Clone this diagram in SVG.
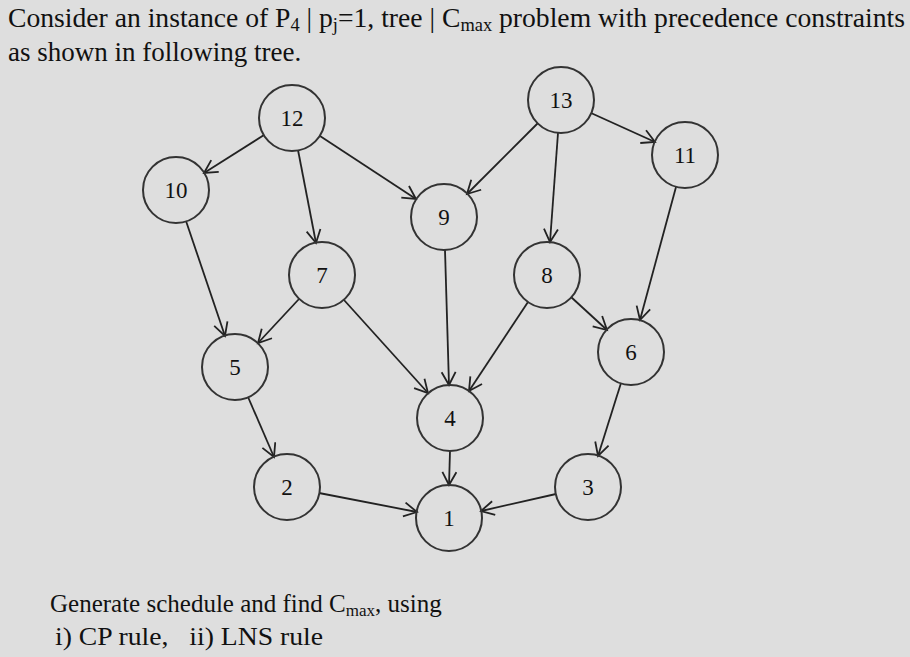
<svg xmlns="http://www.w3.org/2000/svg" width="910" height="657" viewBox="0 0 910 657">
<style>
text{font-family:"Liberation Serif","Times New Roman",serif;fill:#111}
.t{font-size:27px}
.b{font-size:25px}
.n circle{fill:none;stroke:#333;stroke-width:2}
.n text{font-size:23px;text-anchor:middle;dominant-baseline:central}
#edges line{stroke:#222;stroke-width:1.8;marker-end:url(#a)}
</style>
<defs><marker id="a" markerUnits="userSpaceOnUse" markerWidth="20" markerHeight="20" refX="14" refY="8" orient="auto"><path d="M1,1 L14,8 L1,15" fill="none" stroke="#222" stroke-width="1.8"/></marker></defs>
<rect width="910" height="657" fill="#dedede"/>
<text class="t" x="8" y="27" textLength="897" lengthAdjust="spacingAndGlyphs">Consider an instance of P<tspan font-size="18" dy="4">4</tspan><tspan dy="-4"> | p</tspan><tspan font-size="18" dy="4">j</tspan><tspan dy="-4">=1, tree | C</tspan><tspan font-size="18" dy="4">max</tspan><tspan dy="-4"> problem with precedence constraints</tspan></text>
<text class="t" x="8" y="61">as shown in following tree.</text>
<text class="b" x="50" y="612">Generate schedule and find C<tspan font-size="17" dy="4">max</tspan><tspan dy="-4">, using</tspan></text>
<text class="b" x="55" y="645" xml:space="preserve" textLength="268" lengthAdjust="spacingAndGlyphs">i) CP rule,   ii) LNS rule</text>
<g id="edges">
<line x1="264" y1="135" x2="204" y2="173"/>
<line x1="298" y1="150" x2="316" y2="243"/>
<line x1="320" y1="136" x2="416" y2="199"/>
<line x1="538" y1="123" x2="467" y2="194"/>
<line x1="558" y1="133" x2="550" y2="242"/>
<line x1="591" y1="113" x2="655" y2="142"/>
<line x1="186" y1="221" x2="225" y2="336"/>
<line x1="299" y1="299" x2="258" y2="343"/>
<line x1="344" y1="300" x2="428" y2="393"/>
<line x1="445" y1="250" x2="449" y2="385"/>
<line x1="528" y1="302" x2="469" y2="391"/>
<line x1="571" y1="297" x2="607" y2="330"/>
<line x1="676" y1="187" x2="640" y2="320"/>
<line x1="248" y1="397" x2="274" y2="457"/>
<line x1="621" y1="383" x2="598" y2="456"/>
<line x1="450" y1="451" x2="449" y2="485"/>
<line x1="319" y1="493" x2="417" y2="512"/>
<line x1="556" y1="494" x2="481" y2="511"/>
</g>
<g id="n12" class="n"><circle cx="292" cy="118" r="33"/><text x="292" y="118">12</text></g>
<g id="n13" class="n"><circle cx="561" cy="100" r="33"/><text x="561" y="100">13</text></g>
<g id="n11" class="n"><circle cx="685" cy="155" r="33"/><text x="685" y="155">11</text></g>
<g id="n10" class="n"><circle cx="176" cy="190" r="33"/><text x="176" y="190">10</text></g>
<g id="n9" class="n"><circle cx="444" cy="217" r="33"/><text x="444" y="217">9</text></g>
<g id="n7" class="n"><circle cx="322" cy="275" r="33"/><text x="322" y="275">7</text></g>
<g id="n8" class="n"><circle cx="547" cy="275" r="33"/><text x="547" y="275">8</text></g>
<g id="n5" class="n"><circle cx="235" cy="367" r="33"/><text x="235" y="367">5</text></g>
<g id="n6" class="n"><circle cx="631" cy="352" r="33"/><text x="631" y="352">6</text></g>
<g id="n4" class="n"><circle cx="450" cy="418" r="33"/><text x="450" y="418">4</text></g>
<g id="n2" class="n"><circle cx="287" cy="487" r="33"/><text x="287" y="487">2</text></g>
<g id="n3" class="n"><circle cx="588" cy="487" r="33"/><text x="588" y="487">3</text></g>
<g id="n1" class="n"><circle cx="449" cy="518" r="33"/><text x="449" y="518">1</text></g>
</svg>
